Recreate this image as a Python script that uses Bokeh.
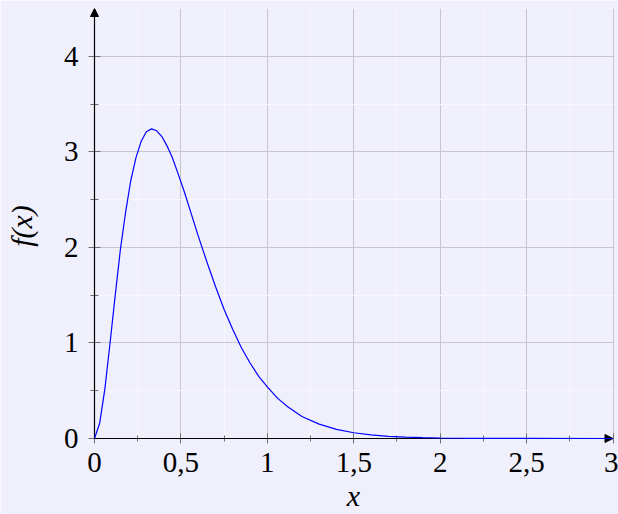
from bokeh.plotting import figure
from bokeh.models import FixedTicker, Arrow, NormalHead, Range1d
from bokeh.embed import file_html
from bokeh.resources import INLINE

# ---- data ----
x_vals = [0.0, 0.03, 0.06, 0.09, 0.12, 0.15, 0.18, 0.21, 0.24, 0.27, 0.30, 0.33,
          0.36, 0.39, 0.42, 0.45, 0.48, 0.52, 0.56, 0.60, 0.65, 0.70, 0.75, 0.80,
          0.85, 0.90, 0.95, 1.0, 1.06, 1.12, 1.2, 1.3, 1.4, 1.5, 1.6, 1.7, 1.8,
          1.9, 2.0, 2.2, 2.5, 3.0]
y_vals = [0.0, 0.16, 0.52, 1.0, 1.5, 1.98, 2.37, 2.70, 2.94, 3.11, 3.21, 3.24,
          3.22, 3.16, 3.06, 2.94, 2.79, 2.58, 2.35, 2.12, 1.85, 1.59, 1.35, 1.14,
          0.95, 0.79, 0.65, 0.54, 0.42, 0.33, 0.23, 0.15, 0.096, 0.060, 0.037, 0.023, 0.014,
          0.0085, 0.005, 0.0017, 0.0004, 0.0]

x_ticks = [0.0, 0.5, 1.0, 1.5, 2.0, 2.5, 3.0]
x_tick_labels = ["0", "0,5", "1", "1,5", "2", "2,5", "3"]
x_minor = [0.25, 0.75, 1.25, 1.75, 2.25, 2.75]
y_ticks = [0.0, 1.0, 2.0, 3.0, 4.0]
y_tick_labels = ["0", "1", "2", "3", "4"]
y_minor = [0.5, 1.5, 2.5, 3.5]
x_lo, x_hi = 0, 3
y_lo, y_hi = 0, 4.5
x_title = "x"
y_title = "f(x)"

# ---- layout (pixels) ----
FIG_W, FIG_H = 618, 514
FRAME_L, FRAME_T = 88, 8
FRAME_B = 443
PAD_L, PAD_B = 6, 5                 # frame extends this far past the axis lines
X_HI_PX = 612.5                     # where x = 3 sits
px_x = (X_HI_PX - FRAME_L - PAD_L) / (x_hi - x_lo)
px_y = (FRAME_B - PAD_B - FRAME_T) / (y_hi - y_lo)
x_start = x_lo - PAD_L / px_x
x_end = x_start + (FIG_W - FRAME_L) / px_x
y_start = y_lo - PAD_B / px_y

BG = "#f0f0fc"
FONT = "Liberation Serif"
TICK = "#6e6e6e"

p = figure(width=FIG_W, height=FIG_H, output_backend="svg", toolbar_location=None,
           x_range=Range1d(x_start, x_end), y_range=Range1d(y_start, y_hi),
           min_border_left=FRAME_L, min_border_right=0, min_border_top=FRAME_T,
           min_border_bottom=FIG_H - FRAME_B)
p.background_fill_color = BG
p.border_fill_color = BG
p.outline_line_color = None

for ax, ticks, minor, labels in ((p.xaxis[0], x_ticks, x_minor, x_tick_labels),
                                 (p.yaxis[0], y_ticks, y_minor, y_tick_labels)):
    ax.ticker = FixedTicker(ticks=ticks, minor_ticks=minor)
    ax.major_label_overrides = {float(t): l for t, l in zip(ticks, labels)}
    ax.axis_line_color = None
    ax.major_tick_line_color = TICK
    ax.minor_tick_line_color = TICK
    ax.major_label_text_font = FONT
    ax.major_label_text_font_size = "29px"
    ax.major_label_text_color = "black"
    ax.axis_label_text_font = FONT
    ax.axis_label_text_font_size = "30px"
    ax.axis_label_text_font_style = "italic"
    ax.axis_label_text_color = "black"

p.xaxis.axis_label = x_title
p.yaxis.axis_label = y_title
# ticks cross the axis line, which sits PAD px inside the frame edge
p.xaxis.major_tick_out = 0
p.xaxis.major_tick_in = 10
p.xaxis.minor_tick_out = -2
p.xaxis.minor_tick_in = 8
p.xaxis.major_label_standoff = 9
p.xaxis.axis_label_standoff = 4
p.yaxis.major_tick_out = 0
p.yaxis.major_tick_in = 12
p.yaxis.minor_tick_out = -2
p.yaxis.minor_tick_in = 10
p.yaxis.major_label_standoff = 10
p.yaxis.axis_label_standoff = 23

for g in (p.xgrid[0], p.ygrid[0]):
    g.grid_line_color = "#c6c6cc"
    g.grid_line_width = 1
    g.minor_grid_line_color = "#f8f8fb"
    g.minor_grid_line_width = 1
try:
    p.xgrid[0].cross_bounds = (y_lo, y_hi)
    p.ygrid[0].cross_bounds = (x_lo, x_hi)
except Exception:
    pass

r = p.line(x_vals, y_vals, line_color="#0000ff", line_width=1.2)
r.level = "overlay"

p.add_layout(Arrow(end=NormalHead(size=8, fill_color="black", line_color="black", line_width=1),
                   x_start=x_lo, y_start=0, x_end=x_hi, y_end=0,
                   line_color="black", line_width=1.2))
p.add_layout(Arrow(end=NormalHead(size=8, fill_color="black", line_color="black", line_width=1),
                   x_start=0, y_start=y_lo, x_end=0, y_end=y_hi,
                   line_color="black", line_width=1.2))

open("out.html", "w").write(file_html(p, INLINE))
